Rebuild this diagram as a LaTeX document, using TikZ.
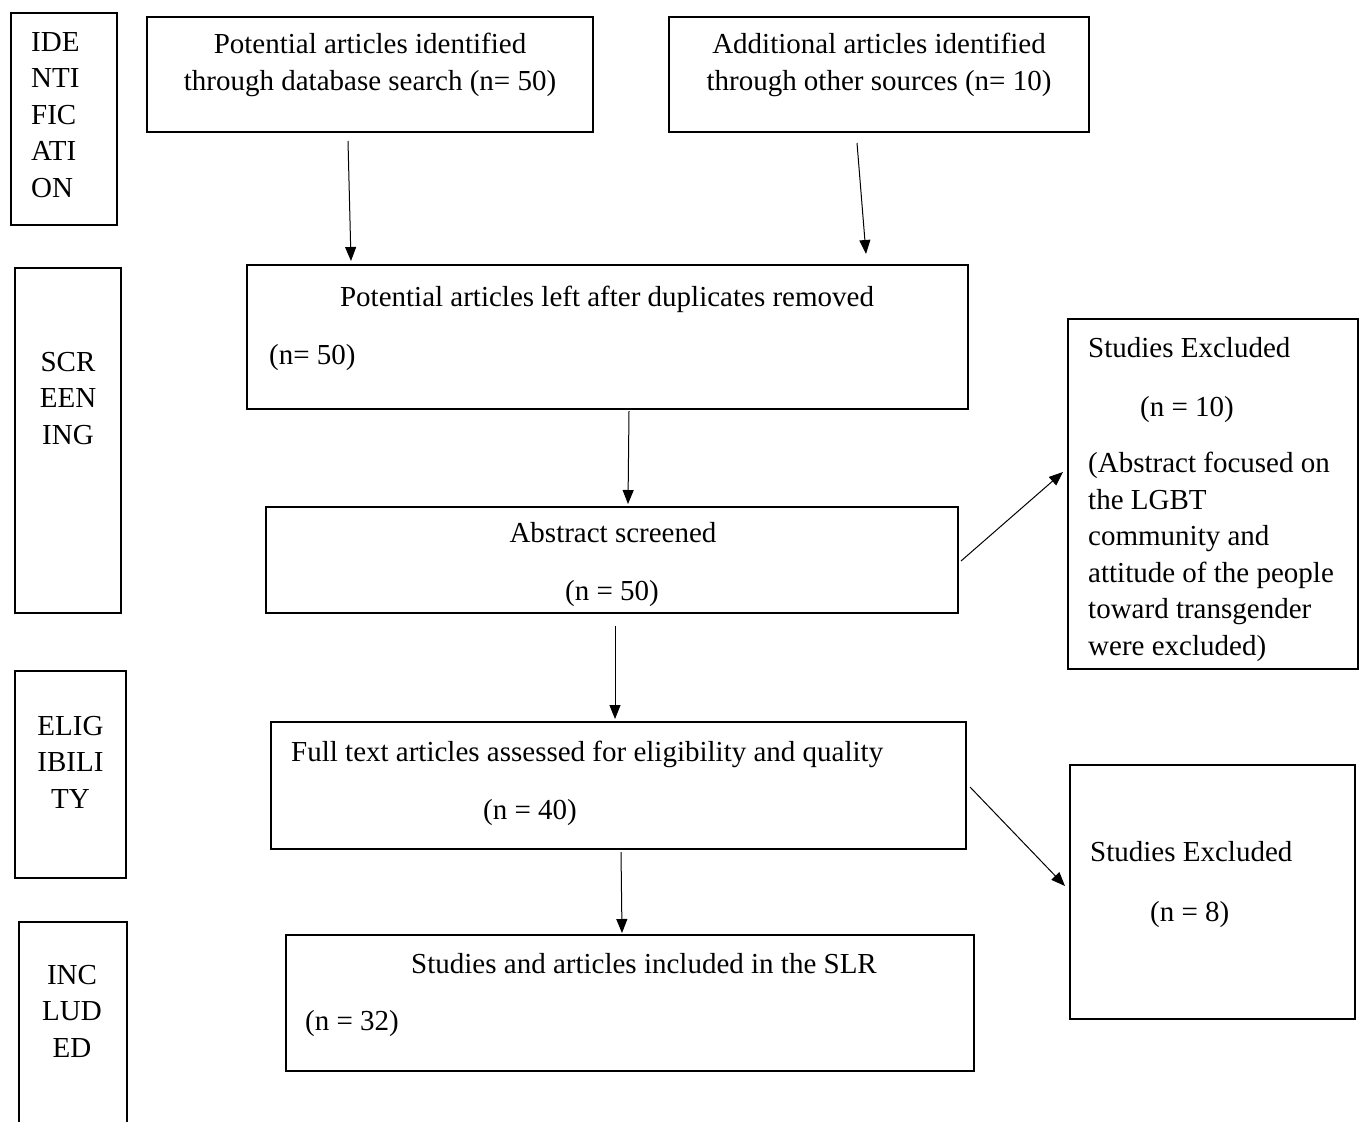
\documentclass[tikz,border=0pt]{standalone}
\usepackage{fontspec}
\setmainfont{Liberation Serif}
\usetikzlibrary{arrows.meta,positioning}

\tikzset{
  frame/.style={rectangle,draw,line width=2pt,inner sep=0pt},
  txt/.style={inner sep=0pt,font=\fontsize{29}{36.5}\selectfont},
  arr/.style={-{Triangle[length=14pt,width=11pt]},line width=1pt}
}

\begin{document}
\begin{tikzpicture}[x=1pt,y=-1pt]
\useasboundingbox (0,0) rectangle (1364,1121);

% phase labels on the left
\node[frame,minimum width=106,minimum height=212] (idn) at (64,119) {};
\node[txt,anchor=north west,align=left] (idntxt) at (31,32) {IDE\\NTI\\FIC\\ATI\\ON};
\node[frame,minimum width=106,minimum height=345] (scr) at (68,440.5) {};
\node[txt,anchor=north,align=center] (scrtxt) at (68,352) {SCR\\EEN\\ING};
\node[frame,minimum width=111,minimum height=207] (elig) at (70.5,774.5) {};
\node[txt,anchor=north,align=center] (eligtxt) at (70.5,716) {ELIG\\IBILI\\TY};
\node[frame,minimum width=108,minimum height=213] (incl) at (73,1028.5) {};
\node[txt,anchor=north,align=center] (incltxt) at (72,965) {INC\\LUD\\ED};

% identification
\node[frame,minimum width=446,minimum height=115] (db) at (370,74.5) {};
\node[txt,anchor=north,align=center] (dbtxt) at (370,33) {Potential articles identified\\through database search (n= 50)};
\node[frame,minimum width=420,minimum height=115] (other) at (879,74.5) {};
\node[txt,anchor=north,align=center] (othertxt) at (879,33) {Additional articles identified\\through other sources (n= 10)};

% screening
\node[frame,minimum width=721,minimum height=144] (dup) at (607.5,337) {};
\node[txt,anchor=base] (duptxt) at (607,306) {Potential articles left after duplicates removed};
\node[txt,anchor=base west] (dupn) at (269,364) {(n= 50)};
\node[frame,minimum width=692,minimum height=106] (abs) at (612,560) {};
\node[txt,anchor=base] (abstxt) at (613,542) {Abstract screened};
\node[txt,anchor=base] (absn) at (612,600) {(n = 50)};
\node[frame,minimum width=290,minimum height=350] (exa) at (1213,494) {};
\node[txt,anchor=base west] (exatxt) at (1088,357) {Studies Excluded};
\node[txt,anchor=base west] (exan) at (1140,416) {(n = 10)};
\node[txt,anchor=north west,align=left] (exawhy) at (1088,452) {(Abstract focused on\\the LGBT\\community and\\attitude of the people\\toward transgender\\were excluded)};

% eligibility
\node[frame,minimum width=695,minimum height=127] (full) at (618.5,785.5) {};
\node[txt,anchor=base west] (fulltxt) at (291,761) {Full text articles assessed for eligibility and quality};
\node[txt,anchor=base] (fulln) at (530,819) {(n = 40)};
\node[frame,minimum width=285,minimum height=254] (exb) at (1212.5,892) {};
\node[txt,anchor=base west] (exbtxt) at (1090,861) {Studies Excluded};
\node[txt,anchor=base west] (exbn) at (1150,921) {(n = 8)};

% included
\node[frame,minimum width=688,minimum height=136] (slr) at (630,1003) {};
\node[txt,anchor=base] (slrtxt) at (644,973) {Studies and articles included in the SLR};
\node[txt,anchor=base west] (slrn) at (305,1030) {(n = 32)};

% arrows
\draw[arr] ([xshift=-22pt,yshift=-8pt]db.south) -- ([xshift=-256.5pt,yshift=3pt]dup.north);
\draw[arr] ([xshift=-22pt,yshift=-10pt]other.south) -- ([xshift=258.5pt,yshift=10pt]dup.north);
\draw[arr] ([xshift=21.5pt,yshift=-1pt]dup.south) -- ([xshift=16pt,yshift=2pt]abs.north);
\draw[arr] ([xshift=2pt,yshift=-1pt]abs.east) -- ([xshift=-4pt,yshift=22pt]exa.west);
\draw[arr] ([xshift=3pt,yshift=-12pt]abs.south) -- ([xshift=-3.5pt,yshift=2pt]full.north);
\draw[arr] ([xshift=3pt,yshift=-1.5pt]full.east) -- ([xshift=-4pt,yshift=6pt]exb.west);
\draw[arr] ([xshift=2.5pt,yshift=-2pt]full.south) -- ([xshift=-8pt,yshift=1pt]slr.north);
\end{tikzpicture}
\end{document}
